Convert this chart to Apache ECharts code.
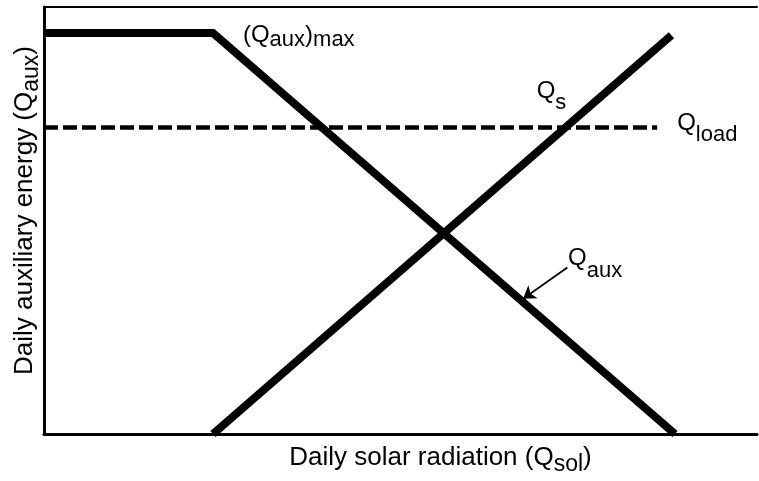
<!doctype html>
<html>
<head>
<meta charset="utf-8">
<title>auxiliary energy vs solar radiation</title>
<style>
	html,body{height: 100%; padding: 0; margin: 0; background: #fff;}
</style>
</head>
<body>
<div style="width: 759px; height: 481px;" id="chartbox"></div>
<script src="https://cdn.jsdelivr.net/npm/echarts@6/dist/echarts.min.js"></script>
<script>
// curves, in arbitrary 0..100 units on both axes
var qAuxLine = [[0, 93.9], [23.7, 93.9], [88.5, 0]];
var qSolarLine = [[23.7, 0], [88.0, 93.4]];
var qLoadLine = [[0, 71.8], [86, 71.8]];

// annotation texts and where they sit
var noteTexts = ['{m|(Q}{t|aux}{m|)}{t|max}', '{m|Q}{s|s}', '{m|Q}{s|load}', '{m|Q}{s|aux}'];
var notePoints = [[27.9, 96.2], [69.1, 83.1], [88.8, 75.6], [73.5, 43.9]];
var arrowFrom = [73.4, 39.0];
var arrowTo = [67.2, 31.7];

var font = "'Liberation Sans', Arial, sans-serif";

var chart = echarts.init(document.getElementById('chartbox'));

var noteData = [];
for (var i = 0; i < notePoints.length; i++) {
	noteData.push({value: notePoints[i], label: {formatter: noteTexts[i]}});
}

var titleRich = {
	m: {fontSize: 26, lineHeight: 26, verticalAlign: 'top', fontFamily: font, color: '#000'},
	s: {fontSize: 23, lineHeight: 23, verticalAlign: 'top', padding: [8, 0, 0, 0], fontFamily: font, color: '#000'}
};

var option = {
	animation: false,
	grid: {left: 44, right: 2, top: 7, bottom: 46},
	xAxis: [{
		type: 'value', min: 0, max: 100,
		name: '{m|Daily solar radiation (Q}{s|sol}{m|)}',
		nameLocation: 'middle', nameGap: 11,
		nameTextStyle: {padding: [0, 0, 0, 80], rich: titleRich},
		axisLine: {show: true, lineStyle: {color: '#000', width: 3}},
		axisTick: {show: false}, axisLabel: {show: false}, splitLine: {show: false}
	}, {
		type: 'value', min: 0, max: 100, position: 'top',
		axisLine: {show: true, lineStyle: {color: '#000', width: 2}},
		axisTick: {show: false}, axisLabel: {show: false}, splitLine: {show: false}
	}],
	yAxis: {
		type: 'value', min: 0, max: 100,
		name: '{m|Daily auxiliary energy (Q}{s|aux}{m|)}',
		nameLocation: 'middle', nameGap: 6, nameRotate: 90,
		nameTextStyle: {padding: [0, 0, 0, 20], rich: titleRich},
		axisLine: {show: true, lineStyle: {color: '#000', width: 3}},
		axisTick: {show: false}, axisLabel: {show: false}, splitLine: {show: false}
	},
	series: [
		{
			name: 'Qload', type: 'line', data: qLoadLine, symbol: 'none',
			lineStyle: {color: '#000', width: 4.5, type: [14, 5]}
		},
		{
			name: 'Qaux', type: 'line', data: qAuxLine, symbol: 'none',
			lineStyle: {color: '#000', width: 8, join: 'miter'}
		},
		{
			name: 'Qs', type: 'line', data: qSolarLine, symbol: 'none',
			lineStyle: {color: '#000', width: 8}
		},
		{
			name: 'notes', type: 'scatter', data: noteData, symbolSize: 0,
			itemStyle: {opacity: 1},
			label: {
				show: true, position: [0, 0], align: 'left', verticalAlign: 'top', color: '#000',
				rich: {
					m: {fontSize: 24, lineHeight: 24, verticalAlign: 'top', fontFamily: font, color: '#000'},
					s: {fontSize: 22, lineHeight: 22, verticalAlign: 'top', padding: [13, 0, 0, 0], fontFamily: font, color: '#000'},
					t: {fontSize: 22, lineHeight: 22, verticalAlign: 'top', padding: [6, 0, 0, 0], fontFamily: font, color: '#000'}
				}
			}
		},
		{
			name: 'arrow', type: 'lines', coordinateSystem: 'cartesian2d',
			symbol: ['none', 'arrow'], symbolSize: 12,
			lineStyle: {color: '#000', width: 1.8, opacity: 1},
			data: [{coords: [arrowFrom, arrowTo]}]
		}
	]
};
chart.setOption(option);
</script>
</body>
</html>
